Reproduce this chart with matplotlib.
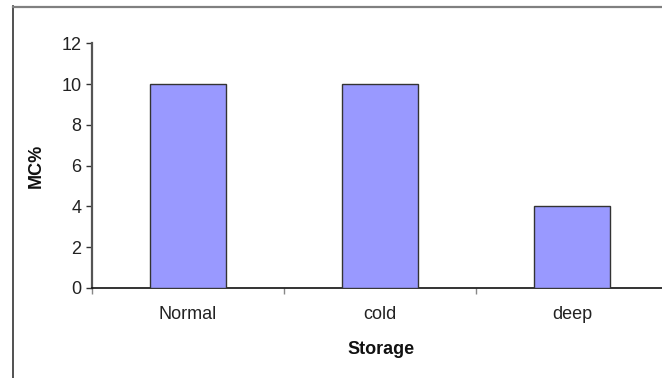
import matplotlib
matplotlib.use("Agg")
import matplotlib.pyplot as plt
from matplotlib.lines import Line2D

storage = ["Normal", "cold", "deep"]
mc_percent = [10, 10, 4]
y_ticks = [0, 2, 4, 6, 8, 10, 12]

W, H = 662, 378

plt.rcParams["font.family"] = ["Liberation Sans", "DejaVu Sans"]

fig = plt.figure(figsize=(W / 100, H / 100), dpi=100)
fig.patch.set_facecolor("white")

# plot area in pixel terms: x from 92 to 668, y from 43 (top) to 288 (baseline)
ax = fig.add_axes([92 / W, (H - 288) / H, 576 / W, 244.7 / H])

x = list(range(len(storage)))
ax.bar(x, mc_percent, width=0.4, color="#9999FF", edgecolor="#333333", linewidth=1.0, zorder=3)

ax.set_xlim(-0.5, len(storage) - 0.5)
ax.set_ylim(0, 12)
ax.set_yticks(y_ticks)
ax.set_yticklabels([str(v) for v in y_ticks])
ax.set_xticks(x)
ax.set_xticklabels(storage)
ax.set_xticks([i - 0.5 for i in range(len(storage) + 1)], minor=True)

ax.tick_params(axis="y", direction="out", length=4, width=1, color="#333333",
               labelsize=13, labelcolor="#222222", pad=3.5)
ax.tick_params(axis="x", which="major", length=0, labelsize=13, labelcolor="#222222", pad=13)
ax.tick_params(axis="x", which="minor", direction="out", length=4, width=1, color="#888888")

for side in ("top", "right"):
    ax.spines[side].set_visible(False)
ax.spines["left"].set_color("#555555")
ax.spines["left"].set_linewidth(1.6)
ax.spines["bottom"].set_color("#111111")
ax.spines["bottom"].set_linewidth(1.2)

ax.set_ylabel("MC%", fontsize=13, fontweight="bold", color="#111111")
ax.yaxis.set_label_coords((36 - 92) / 576, 0.5)
ax.yaxis.label.set_va("center")
ax.set_xlabel("Storage", fontsize=13, fontweight="bold", color="#111111")
ax.xaxis.set_label_coords((381 - 92) / 576, (288 - 350) / 244.7)
ax.xaxis.label.set_va("center")

# chart frame: left and top edges
fig.add_artist(Line2D([12.5 / W, 12.5 / W], [0, 1 - 6 / H], color="#333333", linewidth=1.2))
fig.add_artist(Line2D([12.5 / W, 1], [1 - 6.5 / H, 1 - 6.5 / H], color="#808080", linewidth=1.6))

fig.savefig("out.png", dpi=100)
